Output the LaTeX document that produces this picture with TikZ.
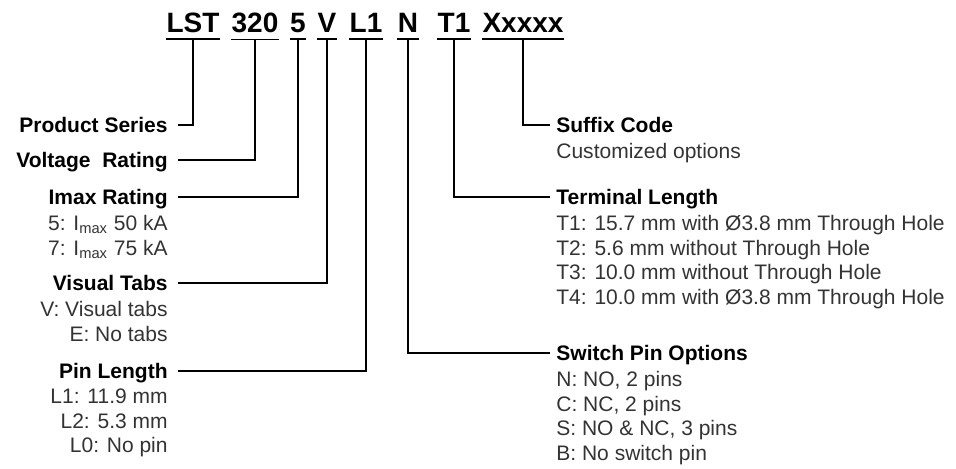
\documentclass[tikz,border=0pt]{standalone}
\usepackage{fontspec}
\setmainfont{Liberation Sans}
\usetikzlibrary{positioning}
\definecolor{txtgray}{HTML}{333333}

\begin{document}
\begin{tikzpicture}[
  x=0.5pt, y=-0.5pt,
  code/.style={font=\fontsize{14}{16}\selectfont\bfseries, inner sep=0pt, anchor=base},
  lhead/.style={font=\fontsize{10.5}{12.25}\selectfont\bfseries, text height=7.5pt, text depth=0pt, inner ysep=0pt, inner xsep=5pt, anchor=east},
  rhead/.style={font=\fontsize{10.5}{12.25}\selectfont\bfseries, text height=7.5pt, text depth=0pt, inner ysep=0pt, inner xsep=3pt, anchor=west},
  desc/.style={font=\fontsize{10.5}{12.25}\selectfont, text=txtgray, inner sep=0pt},
  lead/.style={line width=1pt},
  uline/.style={line width=0.7pt},
]
  \useasboundingbox (0,0) rectangle (956,469);

  % part number
  \node[code] (lst)  at (193,33) {LST};
  \node[code] (rate) at (255,33) {320};
  \node[code] (imx)  at (298,33) {5};
  \node[code] (vis)  at (327,33) {V};
  \node[code] (pin)  at (366,33) {L1};
  \node[code] (sw)   at (408,33) {N};
  \node[code] (term) at (454,33) {T1};
  \node[code] (suf)  at (523,33) {Xxxxx};
  \foreach \c in {lst,rate,imx,vis,pin,sw,term,suf}
    \draw[uline] ([yshift=-2.75pt]\c.south west) -- ([yshift=-2.75pt]\c.south east);

  % left side
  \node[lhead] (prodh) at (178,125) {Product Series};
  \node[lhead] (rateh) at (178,160) {Voltage~ Rating};
  \node[lhead] (imxh)  at (178,197) {Imax Rating};
  \node[desc, below=5pt of imxh.south east, anchor=north east, xshift=-5pt, align=right] (imxd)
    {5: I\textsubscript{max} 50 kA\\7: I\textsubscript{max} 75 kA};
  \node[lhead] (vish)  at (178,283) {Visual Tabs};
  \node[desc, below=5pt of vish.south east, anchor=north east, xshift=-5pt, align=right] (visd)
    {V: Visual tabs\\E: No tabs};
  \node[lhead] (pinh)  at (178,371) {Pin Length};
  \node[desc, below=5pt of pinh.south east, anchor=north east, xshift=-5pt, align=right] (pind)
    {L1: 11.9 mm\\L2: 5.3 mm\\L0: No pin};

  % right side
  \node[rhead] (sufh)  at (550,125) {Suffix Code};
  \node[desc, below=5pt of sufh.south west, anchor=north west, xshift=3pt, align=left] (sufd)
    {Customized options};
  \node[rhead] (termh) at (550,197) {Terminal Length};
  \node[desc, below=5pt of termh.south west, anchor=north west, xshift=3pt, align=left] (termd)
    {T1: 15.7 mm with Ø3.8 mm Through Hole\\T2: 5.6 mm without Through Hole\\T3: 10.0 mm without Through Hole\\T4: 10.0 mm with Ø3.8 mm Through Hole};
  \node[rhead] (swh)   at (550,353) {Switch Pin Options};
  \node[desc, below=5pt of swh.south west, anchor=north west, xshift=3pt, align=left] (swd)
    {N: NO, 2 pins\\C: NC, 2 pins\\S: NO \& NC, 3 pins\\B: No switch pin};

  % leaders
  \draw[lead] ([yshift=-2.75pt]lst.south)  |- (prodh.east);
  \draw[lead] ([yshift=-2.75pt]rate.south) |- (rateh.east);
  \draw[lead] ([yshift=-2.75pt]imx.south)  |- (imxh.east);
  \draw[lead] ([yshift=-2.75pt]vis.south)  |- (vish.east);
  \draw[lead] ([yshift=-2.75pt]pin.south)  |- (pinh.east);
  \draw[lead] ([yshift=-2.75pt]sw.south)   |- (swh.west);
  \draw[lead] ([yshift=-2.75pt]term.south) |- (termh.west);
  \draw[lead] ([yshift=-2.75pt]suf.south)  |- (sufh.west);
\end{tikzpicture}
\end{document}
